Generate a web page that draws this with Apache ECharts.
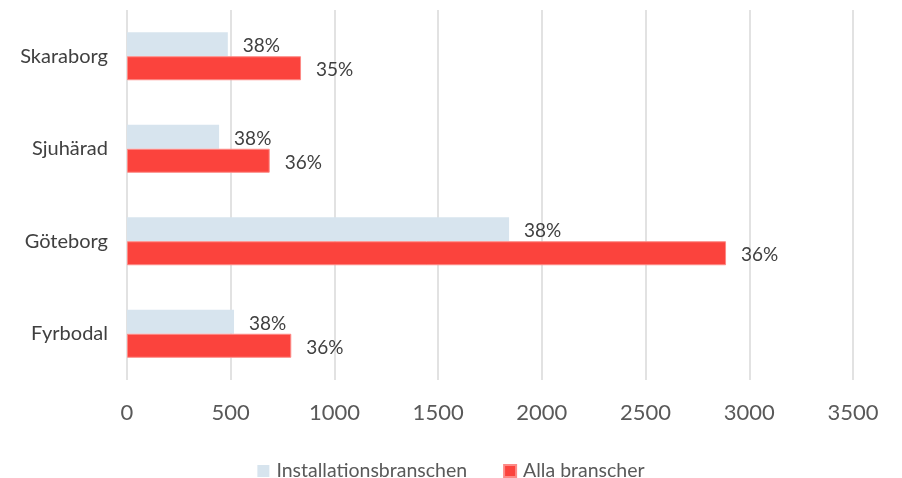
<!DOCTYPE html>
<html><head><meta charset="utf-8">
<script src="https://cdn.jsdelivr.net/npm/echarts@6/dist/echarts.min.js"></script>
<style>html,body{margin:0;padding:0;background:#fff}#c{width:902px;height:478px}</style>
</head><body><div id="c"></div>
<script>
var categories = ['Fyrbodal', 'Göteborg', 'Sjuhärad', 'Skaraborg'];
var installValues = [516, 1842, 444, 486];
var allaValues = [792, 2888, 688, 839];
var installLabels = ['38%', '38%', '38%', '38%'];
var allaLabels = ['36%', '36%', '36%', '35%'];
var seriesNames = ['Installationsbranschen', 'Alla branscher'];

var font = 'Lato, "Open Sans", sans-serif';
var chart = echarts.init(document.getElementById('c'), null, {renderer: 'canvas'});
function lab(arr) {
  return {show: true, position: 'right', distance: 15, offset: [0, 2], fontSize: 19, fontFamily: font, color: '#404040',
    formatter: function (p) { return arr[p.dataIndex]; }};
}
chart.setOption({
  animation: false,
  textStyle: {fontFamily: font},
  grid: {left: 127, right: 49, top: 10, bottom: 98, containLabel: false},
  legend: {
    top: 456, left: 'center', itemWidth: 12, itemHeight: 12, itemGap: 36,
    textStyle: {fontSize: 19.5, color: '#595959', fontFamily: font, padding: [0, 0, 0, 2]},
    data: [{name: seriesNames[0], icon: 'rect'}, {name: seriesNames[1], icon: 'rect'}]
  },
  xAxis: {
    type: 'value', min: 0, max: 3500, interval: 500,
    axisLine: {show: false}, axisTick: {show: false},
    splitLine: {show: true, lineStyle: {color: '#d9d9d9', width: 1.5}},
    axisLabel: {fontSize: 22, color: '#595959', margin: 22, fontFamily: font,
      formatter: function (v) { return String(v); }}
  },
  yAxis: {
    type: 'category', data: categories,
    axisLine: {show: false}, axisTick: {show: false},
    axisLabel: {fontSize: 20, color: '#404040', margin: 19, fontFamily: font}
  },
  series: [
    {name: seriesNames[0], type: 'bar', data: installValues, barWidth: 24, barGap: '0%',
      itemStyle: {color: '#d7e4ee'}, label: lab(installLabels)},
    {name: seriesNames[1], type: 'bar', data: allaValues, barWidth: 24, barGap: '0%',
      itemStyle: {color: '#fb433d', borderColor: '#fd8a86', borderWidth: 1}, label: lab(allaLabels)}
  ]
});
</script></body></html>
